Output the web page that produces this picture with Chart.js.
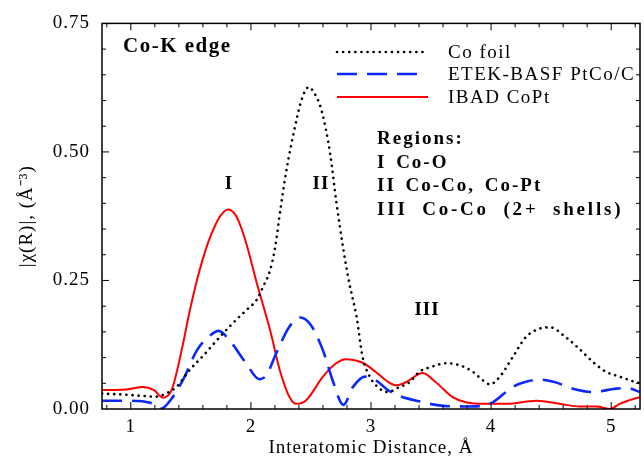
<!DOCTYPE html>
<html>
<head>
<meta charset="utf-8">
<script src="https://cdn.jsdelivr.net/npm/chart.js@4.4.0/dist/chart.umd.min.js"></script>
<style>
html, body { margin: 0; padding: 0; background: #fff; }
</style>
</head>
<body>
<canvas id="myChart" width="644" height="459"></canvas>
<script>
// Co foil (pontilhado)
var coFoilR = [0.76, 0.95, 1.07, 1.21, 1.30, 1.38, 1.49, 1.60, 1.74, 1.85, 1.96, 2.05, 2.10, 2.16, 2.20, 2.25, 2.30, 2.36, 2.41, 2.45, 2.48, 2.53, 2.59, 2.66, 2.71, 2.77, 2.82, 2.88, 2.93, 2.99, 3.07, 3.14, 3.24, 3.32, 3.40, 3.49, 3.63, 3.74, 3.85, 3.93, 3.99, 4.07, 4.18, 4.29, 4.40, 4.49, 4.62, 4.73, 4.85, 4.96, 5.07, 5.18, 5.24]
var coFoilChi = [0.030, 0.028, 0.026, 0.024, 0.031, 0.043, 0.076, 0.103, 0.140, 0.167, 0.192, 0.213, 0.237, 0.270, 0.312, 0.395, 0.470, 0.541, 0.592, 0.618, 0.626, 0.614, 0.579, 0.496, 0.405, 0.310, 0.244, 0.179, 0.101, 0.063, 0.040, 0.033, 0.043, 0.052, 0.072, 0.081, 0.089, 0.085, 0.072, 0.056, 0.048, 0.062, 0.101, 0.140, 0.156, 0.159, 0.140, 0.118, 0.091, 0.072, 0.063, 0.054, 0.050]

// ETEK-BASF PtCo/C (tracejado)
var etekR = [0.76, 1.00, 1.16, 1.255, 1.32, 1.44, 1.55, 1.66, 1.73, 1.82, 1.96, 2.07, 2.13, 2.21, 2.32, 2.41, 2.50, 2.60, 2.68, 2.77, 2.85, 2.95, 3.04, 3.14, 3.24, 3.40, 3.60, 3.79, 3.93, 4.02, 4.18, 4.29, 4.41, 4.52, 4.69, 4.85, 5.02, 5.13, 5.24]
var etekChi = [0.016, 0.016, 0.012, 0.001, 0.014, 0.059, 0.114, 0.143, 0.152, 0.134, 0.089, 0.058, 0.066, 0.108, 0.160, 0.178, 0.163, 0.114, 0.056, 0.008, 0.043, 0.063, 0.056, 0.037, 0.025, 0.015, 0.006, 0.005, 0.006, 0.014, 0.043, 0.053, 0.057, 0.053, 0.039, 0.033, 0.039, 0.041, 0.033]

// IBAD CoPt (linha cheia)
var ibadR = [0.76, 0.96, 1.10, 1.19, 1.27, 1.34, 1.41, 1.49, 1.55, 1.60, 1.65, 1.70, 1.75, 1.81, 1.87, 1.92, 1.97, 2.05, 2.16, 2.24, 2.32, 2.38, 2.46, 2.60, 2.71, 2.79, 2.93, 3.04, 3.14, 3.21, 3.29, 3.43, 3.54, 3.68, 3.79, 3.96, 4.13, 4.38, 4.57, 4.74, 4.88, 4.99, 5.07, 5.19, 5.24]
var ibadChi = [0.037, 0.038, 0.043, 0.037, 0.022, 0.037, 0.100, 0.190, 0.250, 0.292, 0.328, 0.356, 0.377, 0.388, 0.378, 0.352, 0.315, 0.244, 0.153, 0.076, 0.024, 0.010, 0.017, 0.063, 0.089, 0.097, 0.090, 0.072, 0.053, 0.046, 0.052, 0.070, 0.052, 0.023, 0.013, 0.010, 0.010, 0.016, 0.010, 0.005, 0.005, 0.000, 0.010, 0.020, 0.023]

var seriesNames = ['Co foil', 'ETEK-BASF PtCo/C', 'IBAD CoPt']
var xTicks = [1, 2, 3, 4, 5]
var yTicks = [0, 0.25, 0.50, 0.75]
var regionLines = ['Regions:', 'I Co-O', 'II Co-Co, Co-Pt', 'III Co-Co (2+ shells)']

const SERIF = '"Liberation Serif", serif'

function pontos(xs, ys) {
    return xs.map((v, i) => ({ x: v, y: ys[i] }))
}

// moldura, ticks para dentro, legenda e textos
const extras = {
    id: 'extras',
    beforeDraw(chart) {
        chart.ctx.letterSpacing = '1px'
    },
    afterDatasetsDraw(chart) {
        const ctx = chart.ctx
        const a = chart.chartArea
        const x = chart.scales.x
        const y = chart.scales.y
        ctx.save()
        ctx.strokeStyle = '#000'
        ctx.lineWidth = 1.5
        ctx.strokeRect(a.left, a.top, a.right - a.left, a.bottom - a.top)

        ctx.lineWidth = 1
        ctx.beginPath()
        for (let i = 4; i <= 26; i++) {
            const v = i * 0.2
            if (v < x.min || v > x.max) continue
            const px = x.getPixelForValue(v)
            const len = (i % 5 == 0) ? 7 : 4
            ctx.moveTo(px, a.bottom); ctx.lineTo(px, a.bottom - len)
            ctx.moveTo(px, a.top); ctx.lineTo(px, a.top + len)
        }
        for (let i = 1; i < 15; i++) {
            const py = y.getPixelForValue(i * 0.05)
            const len = (i % 5 == 0) ? 7 : 4
            ctx.moveTo(a.left, py); ctx.lineTo(a.left + len, py)
            ctx.moveTo(a.right, py); ctx.lineTo(a.right - len, py)
        }
        ctx.stroke()

        // legenda
        const rows = [[52, 423], [74, 418], [97, 428]]
        chart.data.datasets.forEach((ds, i) => {
            const ly = rows[i][0]
            ctx.save()
            ctx.strokeStyle = ds.borderColor
            ctx.lineWidth = ds.borderWidth
            ctx.lineCap = ds.borderCapStyle || 'butt'
            ctx.setLineDash(ds.borderDash || [])
            ctx.beginPath()
            ctx.moveTo(337, ly)
            ctx.lineTo(rows[i][1], ly)
            ctx.stroke()
            ctx.restore()
            ctx.fillStyle = '#000'
            ctx.font = '19px ' + SERIF
            ctx.letterSpacing = '1.5px'
            ctx.textAlign = 'left'
            ctx.textBaseline = 'middle'
            ctx.fillText(ds.label, 448, ly + 1)
        })

        ctx.fillStyle = '#000'
        ctx.textBaseline = 'alphabetic'
        ctx.font = 'bold 21px ' + SERIF
        ctx.letterSpacing = '1.5px'
        ctx.fillText('Co-K edge', 123, 52)

        ctx.font = 'bold 19px ' + SERIF
        regionLines.forEach((t, i) => {
            ctx.letterSpacing = (i == 3) ? '2.8px' : '2px'
            ctx.wordSpacing = (i == 3) ? '7px' : '3px'
            ctx.fillText(t, 377, 144 + i * 23.7)
        })
        ctx.wordSpacing = '0px'

        ctx.textAlign = 'center'
        ctx.letterSpacing = '1px'
        ctx.fillText('I', 229, 189)
        ctx.fillText('II', 321, 189)
        ctx.fillText('III', 427, 315)
        ctx.restore()
    }
}

var ctx = document.getElementById('myChart').getContext('2d')
var chart = new Chart(ctx, {
    type: 'line',
    data: {
        datasets: [
            {
                label: seriesNames[0],
                data: pontos(coFoilR, coFoilChi),
                borderColor: '#000000',
                borderWidth: 2.6,
                borderDash: [0.1, 6],
                borderCapStyle: 'round',
                pointRadius: 0,
                cubicInterpolationMode: 'monotone'
            },
            {
                label: seriesNames[1],
                data: pontos(etekR, etekChi),
                borderColor: '#0a28ff',
                borderWidth: 2.6,
                borderDash: [20, 10],
                pointRadius: 0,
                cubicInterpolationMode: 'monotone'
            },
            {
                label: seriesNames[2],
                data: pontos(ibadR, ibadChi),
                borderColor: '#ff0000',
                borderWidth: 2,
                pointRadius: 0,
                cubicInterpolationMode: 'monotone'
            }
        ]
    },
    options: {
        responsive: false,
        animation: false,
        devicePixelRatio: 1,
        layout: { padding: { left: 0, top: 22, right: 4, bottom: 0 } },
        plugins: {
            legend: { display: false },
            tooltip: { enabled: false }
        },
        scales: {
            x: {
                type: 'linear',
                min: 0.76,
                max: 5.24,
                afterFit: s => { s.height = 50 },
                afterBuildTicks: s => { s.ticks = xTicks.map(v => ({ value: v })) },
                grid: { display: false, drawTicks: false },
                border: { display: false },
                ticks: {
                    color: '#000',
                    padding: 7,
                    maxRotation: 0,
                    font: { family: SERIF, size: 19 },
                    callback: v => String(v)
                },
                title: {
                    display: true,
                    text: 'Interatomic Distance, Å',
                    color: '#000',
                    padding: { top: 0, bottom: 0 },
                    font: { family: SERIF, size: 19 }
                }
            },
            y: {
                min: 0,
                max: 0.75,
                afterFit: s => { s.width = 102 },
                afterBuildTicks: s => { s.ticks = yTicks.map(v => ({ value: v })) },
                grid: { display: false, drawTicks: false },
                border: { display: false },
                ticks: {
                    color: '#000',
                    padding: 12,
                    font: { family: SERIF, size: 19 },
                    callback: v => v.toFixed(2)
                },
                title: {
                    display: true,
                    text: '|χ(R)|, (Å⁻³)',
                    color: '#000',
                    padding: { top: 16, bottom: 0 },
                    font: { family: SERIF, size: 19 }
                }
            }
        }
    },
    plugins: [extras]
})
</script>
</body>
</html>
